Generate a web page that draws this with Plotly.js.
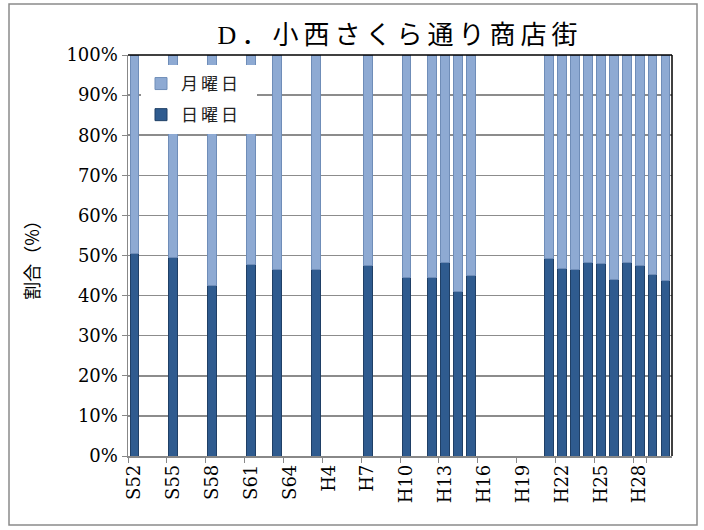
<!DOCTYPE html>
<html>
<head>
<meta charset="utf-8">
<script src="https://cdn.plot.ly/plotly-3.0.1.min.js"></script>
<style>
html,body{margin:0;padding:0;background:#fff;}
#chart{width:704px;height:530px;}
#chart .gtitle{letter-spacing:5px;}
#chart .legendtext{letter-spacing:3px;}
</style>
</head>
<body>
<div id="chart"></div>
<script>
const categories = ["S52","S53","S54","S55","S56","S57","S58","S59","S60","S61","S62","S63","S64",
  "H2","H3","H4","H5","H6","H7","H8","H9","H10","H11","H12","H13","H14","H15","H16","H17","H18","H19",
  "H20","H21","H22","H23","H24","H25","H26","H27","H28","H29","H30"];
const tickLabels = ["S52","S55","S58","S61","S64","H4","H7","H10","H13","H16","H19","H22","H25","H28"];
const surveyYears = ["S52","S55","S58","S61","S63","H3","H7","H10","H12","H13","H14","H15",
  "H21","H22","H23","H24","H25","H26","H27","H28","H29","H30"];
const sundayPct = [50.4,49.5,42.6,47.8,46.5,46.5,47.6,44.6,44.5,48.3,40.9,44.9,
  49.3,46.7,46.6,48.3,48.0,43.9,48.3,47.6,45.3,43.7];
const mondayPct = [49.6,50.5,57.4,52.2,53.5,53.5,52.4,55.4,55.5,51.7,59.1,55.1,
  50.7,53.3,53.4,51.7,52.0,56.1,51.7,52.4,54.7,56.3];

const L = 128, R = 672, T = 55, B = 456, W = 704, H = 530;
const px = v => (v - L) / (R - L);
const py = v => (B - v) / (B - T);
const serif = '"DejaVu Serif", "Liberation Serif", serif';
const cjk = '"Noto Sans CJK JP", sans-serif';

const traces = [
  {type:'bar', name:'日曜日', legendgroup:'sun', legendrank: 2, x:surveyYears, y:sundayPct,
   marker:{color:'#2f5b8f', line:{color:'#1f3f66', width:1}}},
  {type:'bar', name:'月曜日', legendgroup:'mon', legendrank: 1, x:surveyYears, y:mondayPct,
   marker:{color:'#8eaad3', line:{color:'#6f8db8', width:1}}}
];

const layout = {
  width: W, height: H,
  margin: {l: L, r: W - R, t: T, b: H - B},
  paper_bgcolor: '#fff', plot_bgcolor: '#fff',
  barmode: 'stack', bargap: 0.32,
  font: {family: serif, color: '#000', size: 18},
  title: {text: 'D．小西さくら通り商店街', x: 0.5 * (L + R) / W, xanchor: 'center', y: 1 - 35 / H, yanchor: 'middle',
    font: {family: '"Liberation Serif", "Noto Sans CJK JP", serif', size: 26, color: '#000'}},
  showlegend: true,
  legend: {x: px(141), y: py(66), xanchor: 'left', yanchor: 'top', bgcolor: 'rgba(0,0,0,0)',
    traceorder: 'grouped', font: {family: cjk, size: 17, color: '#222'},
    itemwidth: 30, tracegroupgap: 6, borderwidth: 0},
  xaxis: {type: 'category', categoryorder: 'array', categoryarray: categories,
    range: [-0.5, categories.length - 0.5],
    tickmode: 'array', tickvals: tickLabels, ticktext: tickLabels,
    tickangle: -90, ticks: 'outside', ticklen: 5, tickcolor: '#888', tickson: 'boundaries',
    showline: true, linecolor: '#888', linewidth: 1.5, showgrid: false,
    tickfont: {family: serif, size: 18, color: '#000'}},
  yaxis: {range: [0, 100], dtick: 10, ticksuffix: '%', ticks: 'outside', ticklen: 5, tickcolor: '#888',
    showline: true, linecolor: '#888', linewidth: 1.5,
    showgrid: true, gridcolor: '#8c8c8c', gridwidth: 1.5, zeroline: false,
    tickfont: {family: serif, size: 18, color: '#000'},
    title: {text: '割合（%）', standoff: 22, font: {family: cjk, size: 18, color: '#000'}}},
  shapes: [
    {type: 'rect', xref: 'paper', yref: 'paper', layer: 'above', x0: px(141), x1: px(257), y0: py(134), y1: py(65),
     line: {width: 0}, fillcolor: '#fff'},
    {type: 'line', xref: 'paper', yref: 'paper', x0: 0, x1: 1, y0: 1, y1: 1, line: {color: '#000', width: 1.5}},
    {type: 'line', xref: 'paper', yref: 'paper', x0: 1, x1: 1, y0: 0, y1: 1, line: {color: '#000', width: 1.5}},
    {type: 'rect', xref: 'paper', yref: 'paper', x0: px(9), x1: px(697), y0: py(525), y1: py(4),
     line: {color: '#8a8a8a', width: 1.5}, fillcolor: 'rgba(0,0,0,0)'}
  ]
};

Plotly.newPlot('chart', traces, layout, {displayModeBar: false, staticPlot: true});
</script>
</body>
</html>
